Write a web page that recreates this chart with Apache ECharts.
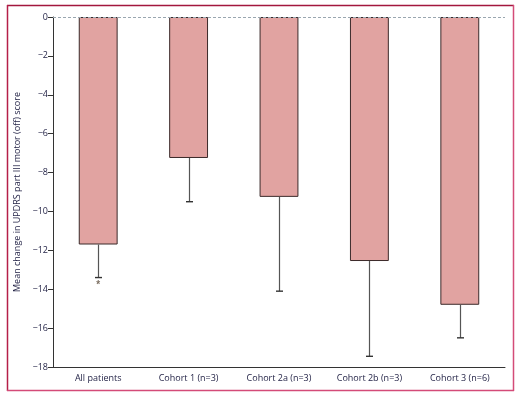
<!DOCTYPE html>
<html><head><meta charset="utf-8">
<script src="https://cdn.jsdelivr.net/npm/echarts@6/dist/echarts.min.js"></script>
<style>html,body{margin:0;padding:0;background:#fff}#c{width:522px;height:399px}</style>
</head><body><div id="c"></div>
<script>
const categories = ['All patients', 'Cohort 1 (n=3)', 'Cohort 2a (n=3)', 'Cohort 2b (n=3)', 'Cohort 3 (n=6)'];
const means = [-11.7, -7.25, -9.25, -12.55, -14.8];
const errorLow = [-13.4, -9.5, -14.1, -17.45, -16.5];
const asteriskPos = [[0, -13.8]];
const yTicks = { min: -18, max: 0, interval: 2 };
const textColor = '#252548';

const chart = echarts.init(document.getElementById('c'), null, {renderer: 'canvas'});
chart.setOption({
  animation: false,
  grid: {left: 53, right: 17, top: 17, bottom: 32},
  graphic: [
    {type: 'line', shape: {x1: 7, y1: 5.5, x2: 514, y2: 5.5}, style: {stroke: '#a3173d', lineWidth: 1.5}},
    {type: 'line', shape: {x1: 7.5, y1: 5, x2: 7.5, y2: 391}, style: {stroke: '#b51f48', lineWidth: 1.5}},
    {type: 'line', shape: {x1: 513.5, y1: 5, x2: 513.5, y2: 391}, style: {stroke: '#d44b78', lineWidth: 1.5}},
    {type: 'line', shape: {x1: 7, y1: 390.5, x2: 514, y2: 390.5}, style: {stroke: '#d44b78', lineWidth: 1.5}}
  ],
  xAxis: {
    type: 'category', data: categories,
    axisLine: {onZero: false, lineStyle: {color: '#333', width: 1}},
    axisTick: {length: 4, lineStyle: {color: '#333'}},
    axisLabel: {color: textColor, fontSize: 9, fontFamily: 'Open Sans', margin: 7},
    splitLine: {show: false}
  },
  yAxis: {
    type: 'value', min: yTicks.min, max: yTicks.max, interval: yTicks.interval,
    name: 'Mean change in UPDRS part III motor (off) score',
    nameLocation: 'middle', nameGap: 30, nameRotate: 90,
    nameTextStyle: {color: textColor, fontSize: 9, fontFamily: 'Open Sans'},
    axisLine: {show: true, lineStyle: {color: '#333', width: 1}},
    axisTick: {show: true, length: 5, lineStyle: {color: '#333'}},
    axisLabel: {color: textColor, fontSize: 9, fontFamily: 'Open Sans', margin: 5,
      formatter: v => (v < 0 ? '\u2212' + Math.abs(v) : String(v))},
    splitLine: {show: false}
  },
  series: [
    {
      type: 'bar', data: means, barWidth: '43%',
      itemStyle: {color: '#e1a3a1', borderColor: '#3b2a2a', borderWidth: 1},
      markLine: {
        silent: true, symbol: 'none', label: {show: false},
        lineStyle: {color: '#9aa7b0', type: [3, 2], width: 1},
        data: [{yAxis: 0}]
      }
    },
    {
      type: 'custom',
      data: means.map((m, i) => [i, m, errorLow[i]]),
      renderItem: function (params, api) {
        const top = api.coord([api.value(0), api.value(1)]);
        const bot = api.coord([api.value(0), api.value(2)]);
        const x = Math.round(top[0]) + 0.5;
        const cap = 3.5;
        return {
          type: 'group',
          children: [
            {type: 'line', shape: {x1: x, y1: top[1], x2: x, y2: bot[1]}, style: {stroke: '#555', lineWidth: 1.2}},
            {type: 'line', shape: {x1: x - cap, y1: bot[1], x2: x + cap, y2: bot[1]}, style: {stroke: '#333', lineWidth: 1.4}}
          ]
        };
      },
      z: 3
    },
    {
      type: 'scatter', data: asteriskPos, symbolSize: 0,
      label: {show: true, formatter: '*', position: 'inside', color: '#5a4a3a', fontSize: 10, fontWeight: 'bold'}
    }
  ]
});
</script></body></html>
